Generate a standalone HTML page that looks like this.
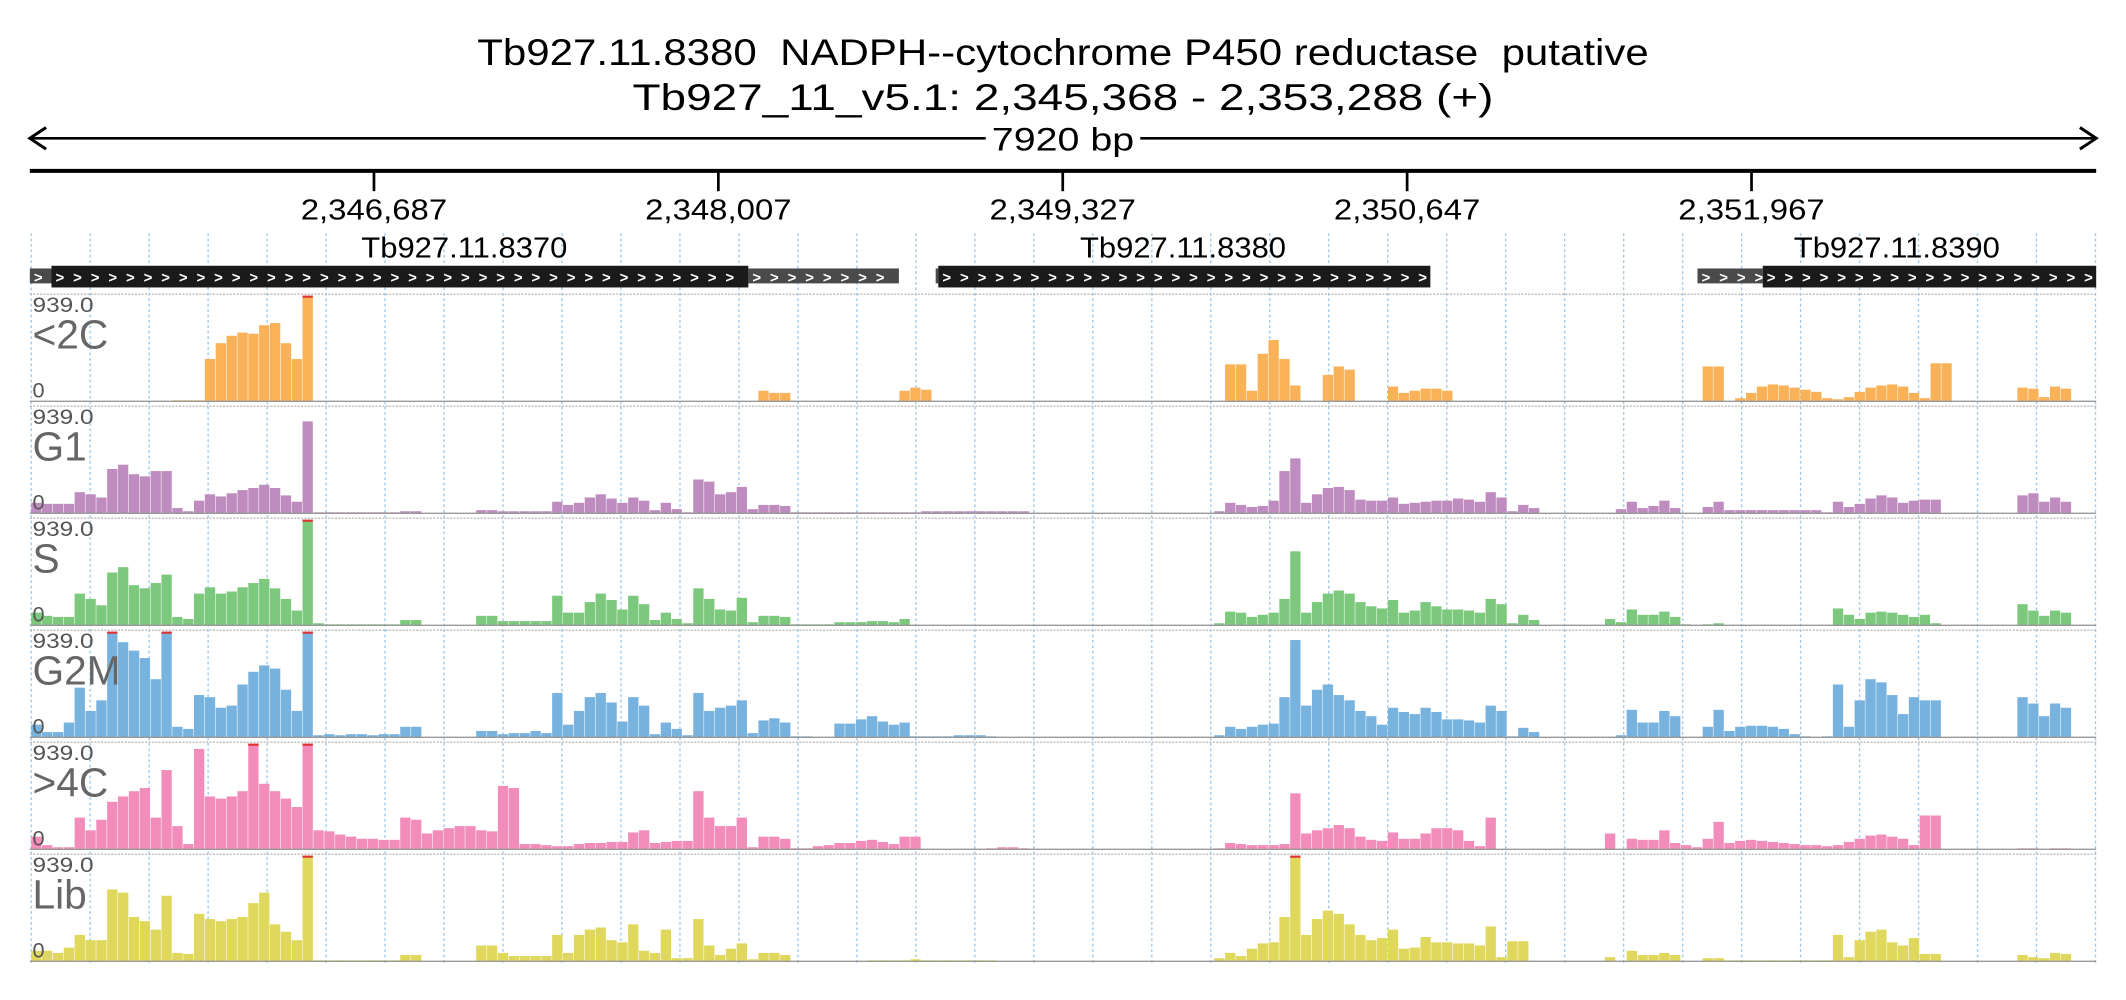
<!DOCTYPE html>
<html><head><meta charset="utf-8">
<style>
html,body{margin:0;padding:0;background:#fff;width:2126px;height:1000px;overflow:hidden}
svg{display:block}
text{font-family:"Liberation Sans",sans-serif;white-space:pre}
</style></head>
<body>
<svg id="chart" width="2126" height="1000" viewBox="0 0 1568 737.5" preserveAspectRatio="none" xmlns="http://www.w3.org/2000/svg" xml:space="preserve">
<g>
<text x="784" y="48" font-size="27" text-anchor="middle" textLength="864" lengthAdjust="spacingAndGlyphs">Tb927.11.8380  NADPH--cytochrome P450 reductase  putative</text>
<text x="784" y="81" font-size="27" text-anchor="middle" textLength="635" lengthAdjust="spacingAndGlyphs">Tb927_11_v5.1: 2,345,368 - 2,353,288 (+)</text>
</g>
<g>
<line x1="22" y1="102" x2="1546" y2="102" stroke="#000" stroke-width="2"/>
<polyline points="34,94 22,102 34,110" fill="none" stroke="#000" stroke-width="2.2"/>
<polyline points="1534,94 1546,102 1534,110" fill="none" stroke="#000" stroke-width="2.2"/>
<rect x="727" y="90" width="114" height="24" fill="#fff"/>
<text x="784" y="111" font-size="24" text-anchor="middle" textLength="105" lengthAdjust="spacingAndGlyphs">7920 bp</text>
</g>
<g id="axis"></g>
<g id="grid"></g>
<g id="genes"></g>
<g id="tracks"></g>
</svg>
<script>
const startBp = 2345368, endBp = 2353288;
const tickValues = [2346687, 2348007, 2349327, 2350647, 2351967];
const trackNames = ["<2C","G1","S","G2M",">4C","Lib"];
const trackColors = ["#f9b257","#bf8cc0","#7cc87c","#78b2df","#f28cbb","#e0d85c"];
const yMaxLabel = "939.0";
const binBp = 41.6;
const geneNames = ["Tb927.11.8370","Tb927.11.8380","Tb927.11.8390"];
const geneStarts = [2345451, 2348850, 2352010];
const geneEnds = [2348122, 2350736, 2353288];
const utrStarts = [2345368, 2348122, 2348840, 2351760];
const utrEnds = [2345451, 2348699, 2348850, 2352010];
const labelStarts = [2345368, 2348840, 2351760];
const labelEnds = [2348699, 2350736, 2353288];

const cov2C = [0,0,0,0,0,0,0,0,0,0, 0,0,0,1,1,1,40,55,62,65, 64,72,74,55,40,100,0,0,0,0,
0,0,0,0,0,0,0,0,0,0, 0,0,0,0,0,0,0,0,0,0, 0,0,0,0,0,0,0,0,0,0,
0,0,0,0,0,0,0,10,8,8, 0,0,0,0,0,0,0,0,0,0, 10,13,11,0,0,0,0,0,0,0,
0,0,0,0,0,0,0,0,0,0, 0,0,0,0,0,0,0,0,0,0, 35,35,10,45,58,40,15,0,0,25,
33,30,0,0,0,14,8,10,12,12, 10,0,0,0,0,0,0,0,0,0, 0,0,0,0,0,0,0,0,0,0,
0,0,0,0,33,33,0,3,8,14, 16,15,13,11,9,3,2,4,9,13, 15,16,14,8,3,36,36,0,0,0,
0,0,0,13,12,4,14,12,0,0, 0];
const covG1 = [10,9,9,9,20,18,15,42,46,37, 35,40,40,5,2,12,18,16,19,22, 24,27,24,17,11,87,1,1,1,1,
1,1,1,1,2,2,0,0,0,0, 0,3,3,2,2,2,2,2,11,8, 10,15,18,14,10,15,12,3,10,4,
1,32,30,18,20,25,4,8,8,7, 1,1,1,1,1,1,1,1,1,1, 1,1,2,2,2,2,2,2,2,2,
2,2,0,0,0,0,0,0,0,0, 0,0,0,0,0,0,0,0,0,2, 10,8,6,7,12,40,52,10,18,24,
25,22,13,12,12,15,9,10,11,12, 12,14,13,11,20,15,2,8,5,0, 0,0,0,0,0,0,4,11,5,7,
12,5,0,0,6,11,3,3,3,3, 3,3,3,3,3,1,11,6,9,14, 17,15,10,12,13,13,0,0,0,0,
0,0,0,17,19,11,15,11,0,0, 0];
const covS = [12,9,8,8,30,25,19,50,55,38, 35,40,48,8,6,30,36,30,32,36, 40,44,35,25,14,100,2,1,1,1,
1,1,1,1,5,5,0,0,0,0, 0,9,9,4,4,4,4,4,28,12, 12,22,30,24,15,28,20,5,12,6,
2,35,25,15,14,26,3,9,9,8, 1,1,1,1,3,3,3,4,4,3, 6,0,0,0,0,0,0,0,0,0,
0,0,0,0,0,0,0,0,0,0, 0,0,0,0,0,0,0,0,0,2, 13,12,8,10,12,25,70,12,22,30,
33,30,22,18,16,24,12,14,22,18, 15,15,14,12,25,20,2,10,5,0, 0,0,0,0,0,6,3,15,10,10,
13,8,1,0,1,2,0,0,0,0, 0,0,0,0,0,0,16,10,6,12, 13,12,10,8,10,2,0,0,0,0,
0,0,0,20,14,9,14,12,0,0, 0];
const covG2M = [12,5,5,14,47,25,35,100,90,82, 75,55,100,10,8,40,38,28,30,50, 62,68,65,45,25,100,2,3,2,3,
3,2,3,3,10,10,0,0,0,0, 0,6,6,3,4,4,6,4,42,12, 25,38,42,33,15,38,30,3,14,8,
2,42,25,28,30,35,4,16,18,14, 1,1,0,0,13,13,17,20,15,12, 14,1,1,1,1,2,2,2,1,0,
0,0,0,0,0,0,0,0,0,0, 0,0,0,0,0,0,0,0,0,2, 10,8,10,12,13,38,92,30,45,50,
40,35,25,20,12,28,24,22,28,24, 17,17,16,14,30,25,1,9,5,0, 0,0,0,0,0,0,2,26,14,14,
25,20,0,0,10,26,6,10,11,11, 10,8,3,1,0,1,50,10,35,55, 52,40,22,38,35,35,0,0,0,0,
0,0,0,38,32,20,32,28,0,0, 0];
const cov4C = [12,4,2,2,30,18,28,45,50,55, 58,30,75,22,5,95,50,48,50,55, 100,62,55,48,40,100,18,17,14,12,
10,10,9,9,30,28,15,18,20,22, 22,18,17,60,58,5,5,4,3,3, 5,6,6,7,7,16,18,6,7,8,
8,55,30,22,22,30,2,12,12,10, 1,1,3,4,6,6,8,9,7,5, 12,12,0,0,0,0,0,0,1,2,
2,1,0,0,0,0,0,0,0,0, 0,0,0,0,0,0,0,0,0,1, 6,5,4,4,4,5,53,15,18,20,
23,20,12,9,8,16,10,10,15,20, 20,18,8,3,30,0,0,0,0,0, 0,0,0,0,0,15,0,10,9,9,
18,6,4,2,10,26,6,8,9,8, 7,6,5,4,4,3,4,7,10,13, 14,12,10,4,32,32,0,0,0,0,
0,0,0,1,1,0,1,1,0,0, 0];
const covLib = [10,10,8,13,25,20,20,68,65,42, 38,30,62,8,7,45,40,38,40,42, 55,65,35,28,20,100,1,1,1,1,
1,1,1,1,6,6,0,0,0,0, 0,15,15,8,5,5,5,5,25,8, 25,30,32,20,18,35,10,8,30,3,
3,40,15,6,12,17,2,8,8,6, 0,0,0,0,0,0,0,1,1,1, 1,2,1,1,1,1,1,1,1,0,
0,0,0,0,0,0,0,0,0,0, 0,0,0,0,0,0,0,0,0,3, 8,5,12,17,18,42,100,25,40,48,
45,35,25,20,22,30,12,13,23,18, 18,17,17,15,33,4,19,19,0,0, 0,0,0,0,0,4,0,10,6,6,
8,6,0,0,3,3,1,1,1,1, 1,1,1,1,1,1,25,4,20,28, 30,18,15,22,7,7,0,0,0,0,
0,0,0,6,4,3,8,7,0,0, 0];
const coverage = [cov2C, covG1, covS, covG2M, cov4C, covLib];

const NS = "http://www.w3.org/2000/svg";
const X0 = 22, X1 = 1546;
function xScale(bp){ return X0 + (bp - startBp) / (endBp - startBp) * (X1 - X0); }
function mk(tag, attrs, parent){ const e = document.createElementNS(NS, tag); for (const k in attrs) e.setAttribute(k, attrs[k]); parent.appendChild(e); return e; }

// axis
const axis = document.getElementById('axis');
mk('line', {x1:X0, y1:126, x2:X1, y2:126, stroke:'#000', 'stroke-width':3}, axis);
tickValues.forEach(v => {
  const x = xScale(v);
  const t = mk('line', {x1:x, y1:126, x2:x, y2:141, stroke:'#000', 'stroke-width':2}, axis);
  
  
  const l = mk('text', {x:x, y:162, 'font-size':21, 'text-anchor':'middle', textLength:108, lengthAdjust:'spacingAndGlyphs'}, axis);
  l.textContent = v.toLocaleString('en-US');
  
  
});

// grid
const grid = document.getElementById('grid');
for (let i = 0; i < 36; i++) {
  const x = 23 + i * 43.5;
  const g = mk('line', {x1:x, y1:172, x2:x, y2:712, stroke:'#9cc8ec', 'stroke-width':1, 'stroke-dasharray':'2,2'}, grid);
  
  
}

// genes
const genes = document.getElementById('genes');
function chevrons(x0, x1, parent){
  for (let x = x0 + 3; x < x1 - 6; x += 13) {
    const c = mk('text', {x:x, y:208.5, 'font-size':11, fill:'#fff', 'font-weight':'bold'}, parent);
    c.textContent = '>';
  }
}
utrStarts.forEach((s, i) => {
  const a = xScale(s), b = xScale(utrEnds[i]);
  const r = mk('rect', {x:a, y:198, width:b - a, height:11, fill:'#4a4a4a'}, genes);
  
  
  chevrons(a, b, genes);
});
geneNames.forEach((n, i) => {
  const a = xScale(geneStarts[i]), b = xScale(geneEnds[i]);
  const r = mk('rect', {x:a, y:196, width:b - a, height:16, fill:'#1a1a1a'}, genes);
  
  
  chevrons(a, b, genes);
  const cx = (xScale(labelStarts[i]) + xScale(labelEnds[i])) / 2;
  const t = mk('text', {x:cx, y:190, 'font-size':21, 'text-anchor':'middle', textLength:152, lengthAdjust:'spacingAndGlyphs'}, genes);
  t.textContent = n;
  
  
});

// tracks
const tracks = document.getElementById('tracks');
const binPx = binBp / (endBp - startBp) * (X1 - X0);
trackNames.forEach((name, ti) => {
  const top = 217 + ti * 82.6, base = top + 79, h = 78;
  const g = mk('g', {}, tracks);
  
  
  mk('line', {x1:X0, y1:top, x2:X1, y2:top, stroke:'#bbb', 'stroke-width':1, 'stroke-dasharray':'1.5,1'}, g);
  coverage[ti].forEach((v, i) => {
    if (!v) return;
    const x = xScale(startBp + i * binBp) + 1;
    const bh = v / 100 * h;
    const b = mk('rect', {x:x, y:base - bh, width:binPx - 0.4, height:bh, fill:trackColors[ti]}, g);
    
    
    if (v >= 100) {
      const c = mk('rect', {x:x, y:base - bh, width:binPx - 0.4, height:1.6, fill:'#d33'}, g);
      
      
    }
  });
  mk('line', {x1:X0, y1:base, x2:X1, y2:base, stroke:'#999', 'stroke-width':1}, g);
  const m = mk('text', {x:24, y:top + 13, 'font-size':16, fill:'#555', textLength:45, lengthAdjust:'spacingAndGlyphs'}, g);
  m.textContent = yMaxLabel;
  
  
  const n = mk('text', {x:24, y:top + 40, 'font-size':30, fill:'#666'}, g);
  n.textContent = name;
  
  
  const z = mk('text', {x:24, y:base - 3, 'font-size':16, fill:'#555'}, g);
  z.textContent = '0';
  
  
});
</script>
</body></html>
